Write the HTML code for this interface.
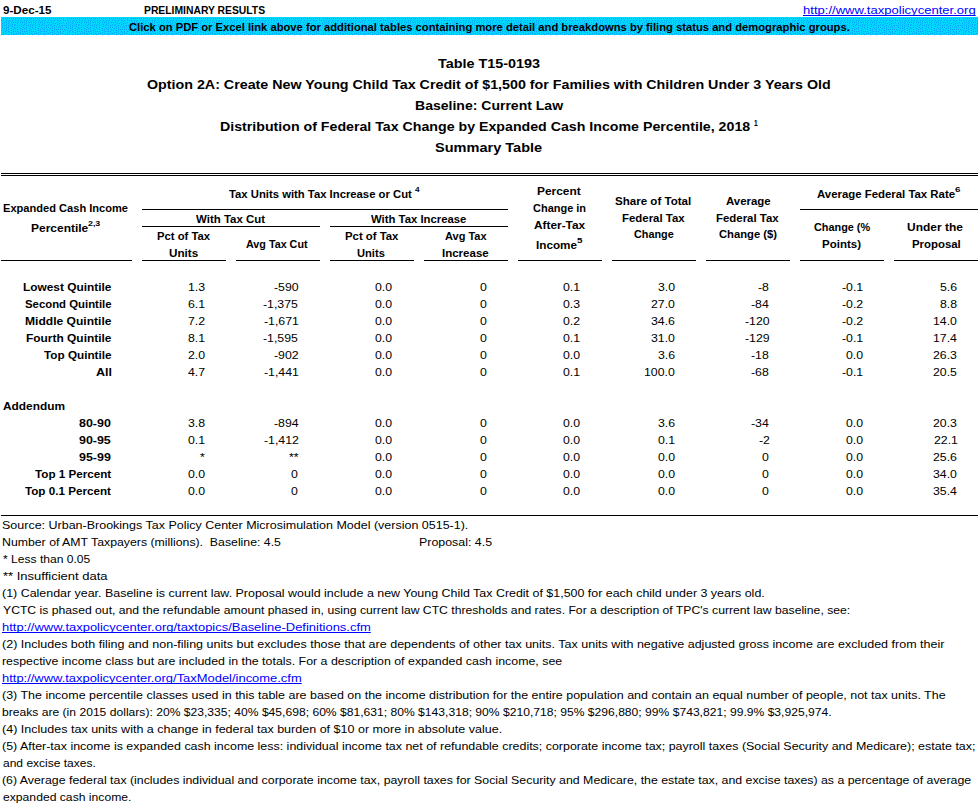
<!DOCTYPE html>
<html><head><meta charset="utf-8"><style>
html,body{margin:0;padding:0;background:#fff;}
body{width:978px;height:805px;position:relative;overflow:hidden;font-family:"Liberation Sans",sans-serif;color:#000;}
span{position:absolute;white-space:pre;transform-origin:0 0;}
.ln{position:absolute;background:#000;height:1px;}
</style></head><body>
<svg style="position:absolute;left:1px;top:17px" width="977" height="18" shape-rendering="crispEdges"><defs><pattern id="dp" width="64" height="18" patternUnits="userSpaceOnUse"><rect width="64" height="18" fill="#00d8ff"/><path fill="#0a9cff" d="M2 1h1v1h-1zM4 1h1v1h-1zM6 1h1v1h-1zM8 1h1v1h-1zM10 1h1v1h-1zM12 1h1v1h-1zM14 1h1v1h-1zM16 1h1v1h-1zM18 1h1v1h-1zM20 1h1v1h-1zM22 1h1v1h-1zM24 1h1v1h-1zM26 1h1v1h-1zM28 1h1v1h-1zM30 1h1v1h-1zM32 1h1v1h-1zM34 1h1v1h-1zM36 1h1v1h-1zM38 1h1v1h-1zM40 1h1v1h-1zM42 1h1v1h-1zM44 1h1v1h-1zM46 1h1v1h-1zM48 1h1v1h-1zM50 1h1v1h-1zM52 1h1v1h-1zM54 1h1v1h-1zM56 1h1v1h-1zM58 1h1v1h-1zM60 1h1v1h-1zM62 1h1v1h-1zM0 3h1v1h-1zM2 3h1v1h-1zM5 3h1v1h-1zM8 3h1v1h-1zM11 3h1v1h-1zM14 3h1v1h-1zM17 3h1v1h-1zM20 3h1v1h-1zM23 3h1v1h-1zM26 3h1v1h-1zM29 3h1v1h-1zM32 3h1v1h-1zM35 3h1v1h-1zM38 3h1v1h-1zM41 3h1v1h-1zM44 3h1v1h-1zM47 3h1v1h-1zM50 3h1v1h-1zM53 3h1v1h-1zM56 3h1v1h-1zM59 3h1v1h-1zM62 3h1v1h-1zM7 4h1v1h-1zM16 4h1v1h-1zM25 4h1v1h-1zM34 4h1v1h-1zM43 4h1v1h-1zM52 4h1v1h-1zM58 4h1v1h-1zM3 5h1v1h-1zM5 5h1v1h-1zM10 5h1v1h-1zM12 5h1v1h-1zM14 5h1v1h-1zM19 5h1v1h-1zM21 5h1v1h-1zM23 5h1v1h-1zM28 5h1v1h-1zM30 5h1v1h-1zM32 5h1v1h-1zM37 5h1v1h-1zM39 5h1v1h-1zM41 5h1v1h-1zM46 5h1v1h-1zM48 5h1v1h-1zM50 5h1v1h-1zM56 5h1v1h-1zM62 5h1v1h-1zM1 6h1v1h-1zM7 6h1v1h-1zM16 6h1v1h-1zM25 6h1v1h-1zM34 6h1v1h-1zM43 6h1v1h-1zM52 6h1v1h-1zM54 6h1v1h-1zM58 6h1v1h-1zM60 6h1v1h-1zM5 7h1v1h-1zM11 7h1v1h-1zM14 7h1v1h-1zM20 7h1v1h-1zM23 7h1v1h-1zM29 7h1v1h-1zM32 7h1v1h-1zM38 7h1v1h-1zM41 7h1v1h-1zM47 7h1v1h-1zM50 7h1v1h-1zM56 7h1v1h-1zM1 8h1v1h-1zM3 8h1v1h-1zM7 8h1v1h-1zM9 8h1v1h-1zM13 8h1v1h-1zM16 8h1v1h-1zM18 8h1v1h-1zM22 8h1v1h-1zM25 8h1v1h-1zM27 8h1v1h-1zM31 8h1v1h-1zM34 8h1v1h-1zM36 8h1v1h-1zM40 8h1v1h-1zM43 8h1v1h-1zM45 8h1v1h-1zM49 8h1v1h-1zM53 8h1v1h-1zM58 8h1v1h-1zM61 8h1v1h-1zM63 8h1v1h-1zM5 9h1v1h-1zM11 9h1v1h-1zM20 9h1v1h-1zM29 9h1v1h-1zM38 9h1v1h-1zM51 9h1v1h-1zM55 9h1v1h-1zM59 9h1v1h-1zM1 10h1v1h-1zM7 10h1v1h-1zM13 10h1v1h-1zM16 10h1v1h-1zM22 10h1v1h-1zM25 10h1v1h-1zM31 10h1v1h-1zM34 10h1v1h-1zM40 10h1v1h-1zM43 10h1v1h-1zM45 10h1v1h-1zM47 10h1v1h-1zM53 10h1v1h-1zM57 10h1v1h-1zM61 10h1v1h-1zM3 11h1v1h-1zM5 11h1v1h-1zM10 11h1v1h-1zM14 11h1v1h-1zM19 11h1v1h-1zM23 11h1v1h-1zM28 11h1v1h-1zM32 11h1v1h-1zM37 11h1v1h-1zM41 11h1v1h-1zM49 11h1v1h-1zM51 11h1v1h-1zM7 12h1v1h-1zM12 12h1v1h-1zM16 12h1v1h-1zM21 12h1v1h-1zM25 12h1v1h-1zM30 12h1v1h-1zM34 12h1v1h-1zM39 12h1v1h-1zM43 12h1v1h-1zM46 12h1v1h-1zM53 12h1v1h-1zM55 12h1v1h-1zM57 12h1v1h-1zM59 12h1v1h-1zM61 12h1v1h-1zM63 12h1v1h-1zM0 13h1v1h-1zM2 13h1v1h-1zM5 13h1v1h-1zM10 13h1v1h-1zM19 13h1v1h-1zM28 13h1v1h-1zM37 13h1v1h-1zM48 13h1v1h-1zM51 13h1v1h-1zM4 14h1v1h-1zM7 14h1v1h-1zM12 14h1v1h-1zM14 14h1v1h-1zM16 14h1v1h-1zM21 14h1v1h-1zM23 14h1v1h-1zM25 14h1v1h-1zM30 14h1v1h-1zM32 14h1v1h-1zM34 14h1v1h-1zM39 14h1v1h-1zM41 14h1v1h-1zM43 14h1v1h-1zM45 14h1v1h-1zM53 14h1v1h-1zM56 14h1v1h-1zM59 14h1v1h-1zM62 14h1v1h-1zM2 15h1v1h-1zM8 15h1v1h-1zM10 15h1v1h-1zM19 15h1v1h-1zM28 15h1v1h-1zM37 15h1v1h-1zM49 15h1v1h-1zM51 15h1v1h-1zM57 15h1v1h-1zM4 16h1v1h-1zM12 16h1v1h-1zM15 16h1v1h-1zM17 16h1v1h-1zM21 16h1v1h-1zM24 16h1v1h-1zM26 16h1v1h-1zM30 16h1v1h-1zM33 16h1v1h-1zM35 16h1v1h-1zM39 16h1v1h-1zM42 16h1v1h-1zM45 16h1v1h-1zM47 16h1v1h-1zM53 16h1v1h-1zM59 16h1v1h-1zM61 16h1v1h-1zM0 17h1v1h-1zM2 17h1v1h-1zM7 17h1v1h-1zM10 17h1v1h-1zM13 17h1v1h-1zM19 17h1v1h-1zM22 17h1v1h-1zM28 17h1v1h-1zM31 17h1v1h-1zM37 17h1v1h-1zM43 17h1v1h-1zM51 17h1v1h-1zM55 17h1v1h-1zM57 17h1v1h-1z"/></pattern></defs><rect width="977" height="18" fill="url(#dp)"/></svg>
<div class="ln" style="left:1px;top:173px;width:977px"></div>
<div class="ln" style="left:1px;top:175px;width:977px"></div>
<div class="ln" style="left:142px;top:209px;width:366px"></div>
<div class="ln" style="left:800px;top:209px;width:178px"></div>
<div class="ln" style="left:142px;top:226px;width:178px"></div>
<div class="ln" style="left:330px;top:226px;width:178px"></div>
<div class="ln" style="left:1px;top:260px;width:131px"></div>
<div class="ln" style="left:142px;top:260px;width:84px"></div>
<div class="ln" style="left:236px;top:260px;width:84px"></div>
<div class="ln" style="left:330px;top:260px;width:84px"></div>
<div class="ln" style="left:424px;top:260px;width:84px"></div>
<div class="ln" style="left:518px;top:260px;width:84px"></div>
<div class="ln" style="left:612px;top:260px;width:84px"></div>
<div class="ln" style="left:706px;top:260px;width:84px"></div>
<div class="ln" style="left:800px;top:260px;width:84px"></div>
<div class="ln" style="left:894px;top:260px;width:84px"></div>
<div class="ln" style="left:1px;top:515px;width:977px"></div>

<span style="left:3.10px;top:4.70px;font-size:11.2px;line-height:11.2px;font-weight:bold;transform:scaleX(1.0384);">9-Dec-15</span>
<span style="left:144.30px;top:4.70px;font-size:11.2px;line-height:11.2px;font-weight:bold;transform:scaleX(0.9244);">PRELIMINARY RESULTS</span>
<span style="left:803.40px;top:4.70px;font-size:11.2px;line-height:11.2px;color:#0000ff;text-decoration:underline;text-decoration-skip-ink:none;transform:scaleX(1.1668);">http://www.taxpolicycenter.org</span>
<span style="left:129.30px;top:21.50px;font-size:11.2px;line-height:11.2px;font-weight:bold;transform:scaleX(1.0022);">Click on PDF or Excel link above for additional tables containing more detail and breakdowns by filing status and demographic groups.</span>
<span style="left:437.70px;top:56.60px;font-size:13.0px;line-height:13.0px;font-weight:bold;transform:scaleX(1.1063);">Table T15-0193</span>
<span style="left:146.90px;top:77.80px;font-size:13.0px;line-height:13.0px;font-weight:bold;transform:scaleX(1.0972);">Option 2A: Create New Young Child Tax Credit of $1,500 for Families with Children Under 3 Years Old</span>
<span style="left:414.90px;top:99.00px;font-size:13.0px;line-height:13.0px;font-weight:bold;transform:scaleX(1.0789);">Baseline: Current Law</span>
<span style="left:219.60px;top:119.50px;font-size:13.0px;line-height:13.0px;font-weight:bold;transform:scaleX(1.0910);">Distribution of Federal Tax Change by Expanded Cash Income Percentile, 2018</span>
<span style="left:754.00px;top:118.70px;font-size:9.2px;line-height:9.2px;font-weight:bold;transform:scaleX(0.7200);">1</span>
<span style="left:434.80px;top:140.90px;font-size:13.0px;line-height:13.0px;font-weight:bold;transform:scaleX(1.1182);">Summary Table</span>
<span style="left:2.60px;top:202.80px;font-size:11.2px;line-height:11.2px;font-weight:bold;transform:scaleX(0.9907);">Expanded Cash Income</span>
<span style="left:30.60px;top:222.50px;font-size:11.2px;line-height:11.2px;font-weight:bold;transform:scaleX(1.0710);">Percentile</span>
<span style="left:88.10px;top:219.70px;font-size:8px;line-height:8px;font-weight:bold;transform:scaleX(1.1029);">2,3</span>
<span style="left:228.60px;top:188.90px;font-size:11.2px;line-height:11.2px;font-weight:bold;transform:scaleX(1.0094);">Tax Units with Tax Increase or Cut</span>
<span style="left:415.00px;top:185.70px;font-size:8px;line-height:8px;font-weight:bold;transform:scaleX(1.0208);">4</span>
<span style="left:195.90px;top:213.50px;font-size:11.2px;line-height:11.2px;font-weight:bold;transform:scaleX(1.0236);">With Tax Cut</span>
<span style="left:370.90px;top:213.50px;font-size:11.2px;line-height:11.2px;font-weight:bold;transform:scaleX(1.0120);">With Tax Increase</span>
<span style="left:156.80px;top:230.70px;font-size:11.2px;line-height:11.2px;font-weight:bold;transform:scaleX(1.0074);">Pct of Tax</span>
<span style="left:168.70px;top:247.70px;font-size:11.2px;line-height:11.2px;font-weight:bold;transform:scaleX(1.0465);">Units</span>
<span style="left:246.30px;top:238.90px;font-size:11.2px;line-height:11.2px;font-weight:bold;transform:scaleX(0.9612);">Avg Tax Cut</span>
<span style="left:345.40px;top:230.70px;font-size:11.2px;line-height:11.2px;font-weight:bold;transform:scaleX(1.0153);">Pct of Tax</span>
<span style="left:356.60px;top:247.70px;font-size:11.2px;line-height:11.2px;font-weight:bold;transform:scaleX(0.9955);">Units</span>
<span style="left:444.50px;top:230.70px;font-size:11.2px;line-height:11.2px;font-weight:bold;transform:scaleX(0.9841);">Avg Tax</span>
<span style="left:442.10px;top:247.70px;font-size:11.2px;line-height:11.2px;font-weight:bold;transform:scaleX(1.0284);">Increase</span>
<span style="left:536.60px;top:185.70px;font-size:11.2px;line-height:11.2px;font-weight:bold;transform:scaleX(1.0662);">Percent</span>
<span style="left:532.50px;top:202.70px;font-size:11.2px;line-height:11.2px;font-weight:bold;transform:scaleX(0.9809);">Change in</span>
<span style="left:534.10px;top:219.70px;font-size:11.2px;line-height:11.2px;font-weight:bold;transform:scaleX(1.0583);">After-Tax</span>
<span style="left:536.00px;top:239.90px;font-size:11.2px;line-height:11.2px;font-weight:bold;transform:scaleX(1.0455);">Income</span>
<span style="left:577.10px;top:236.80px;font-size:8px;line-height:8px;font-weight:bold;transform:scaleX(1.2250);">5</span>
<span style="left:614.90px;top:195.50px;font-size:11.2px;line-height:11.2px;font-weight:bold;transform:scaleX(1.0332);">Share of Total</span>
<span style="left:621.50px;top:212.90px;font-size:11.2px;line-height:11.2px;font-weight:bold;transform:scaleX(1.0206);">Federal Tax</span>
<span style="left:634.10px;top:229.30px;font-size:11.2px;line-height:11.2px;font-weight:bold;transform:scaleX(0.9681);">Change</span>
<span style="left:726.20px;top:195.50px;font-size:11.2px;line-height:11.2px;font-weight:bold;transform:scaleX(1.0213);">Average</span>
<span style="left:716.40px;top:212.90px;font-size:11.2px;line-height:11.2px;font-weight:bold;transform:scaleX(1.0206);">Federal Tax</span>
<span style="left:719.40px;top:229.30px;font-size:11.2px;line-height:11.2px;font-weight:bold;transform:scaleX(1.0039);">Change ($)</span>
<span style="left:816.60px;top:188.70px;font-size:11.2px;line-height:11.2px;font-weight:bold;transform:scaleX(1.0182);">Average Federal Tax Rate</span>
<span style="left:955.30px;top:185.80px;font-size:8px;line-height:8px;font-weight:bold;transform:scaleX(1.2250);">6</span>
<span style="left:813.50px;top:222.10px;font-size:11.2px;line-height:11.2px;font-weight:bold;transform:scaleX(0.9714);">Change (%</span>
<span style="left:822.30px;top:238.50px;font-size:11.2px;line-height:11.2px;font-weight:bold;transform:scaleX(1.0283);">Points)</span>
<span style="left:906.60px;top:221.70px;font-size:11.2px;line-height:11.2px;font-weight:bold;transform:scaleX(1.0696);">Under the</span>
<span style="left:912.20px;top:239.00px;font-size:11.2px;line-height:11.2px;font-weight:bold;transform:scaleX(1.0191);">Proposal</span>
<span style="left:22.50px;top:282.00px;font-size:11.2px;line-height:11.2px;font-weight:bold;transform:scaleX(1.0621);">Lowest Quintile</span>
<span style="left:187.74px;top:282.00px;font-size:11.2px;line-height:11.2px;transform:scaleX(1.1000);">1.3</span>
<span style="left:273.91px;top:282.00px;font-size:11.2px;line-height:11.2px;transform:scaleX(1.1000);">-590</span>
<span style="left:375.34px;top:282.00px;font-size:11.2px;line-height:11.2px;transform:scaleX(1.1000);">0.0</span>
<span style="left:479.80px;top:282.00px;font-size:11.2px;line-height:11.2px;transform:scaleX(1.1000);">0</span>
<span style="left:563.24px;top:282.00px;font-size:11.2px;line-height:11.2px;transform:scaleX(1.1000);">0.1</span>
<span style="left:657.64px;top:282.00px;font-size:11.2px;line-height:11.2px;transform:scaleX(1.1000);">3.0</span>
<span style="left:757.60px;top:282.00px;font-size:11.2px;line-height:11.2px;transform:scaleX(1.1000);">-8</span>
<span style="left:842.44px;top:282.00px;font-size:11.2px;line-height:11.2px;transform:scaleX(1.1000);">-0.1</span>
<span style="left:939.54px;top:282.00px;font-size:11.2px;line-height:11.2px;transform:scaleX(1.1000);">5.6</span>
<span style="left:25.40px;top:299.00px;font-size:11.2px;line-height:11.2px;font-weight:bold;transform:scaleX(1.0161);">Second Quintile</span>
<span style="left:187.74px;top:299.00px;font-size:11.2px;line-height:11.2px;transform:scaleX(1.1000);">6.1</span>
<span style="left:262.65px;top:299.00px;font-size:11.2px;line-height:11.2px;transform:scaleX(1.1000);">-1,375</span>
<span style="left:375.34px;top:299.00px;font-size:11.2px;line-height:11.2px;transform:scaleX(1.1000);">0.0</span>
<span style="left:479.80px;top:299.00px;font-size:11.2px;line-height:11.2px;transform:scaleX(1.1000);">0</span>
<span style="left:563.24px;top:299.00px;font-size:11.2px;line-height:11.2px;transform:scaleX(1.1000);">0.3</span>
<span style="left:650.79px;top:299.00px;font-size:11.2px;line-height:11.2px;transform:scaleX(1.1000);">27.0</span>
<span style="left:750.76px;top:299.00px;font-size:11.2px;line-height:11.2px;transform:scaleX(1.1000);">-84</span>
<span style="left:842.44px;top:299.00px;font-size:11.2px;line-height:11.2px;transform:scaleX(1.1000);">-0.2</span>
<span style="left:939.54px;top:299.00px;font-size:11.2px;line-height:11.2px;transform:scaleX(1.1000);">8.8</span>
<span style="left:24.50px;top:316.00px;font-size:11.2px;line-height:11.2px;font-weight:bold;transform:scaleX(1.0785);">Middle Quintile</span>
<span style="left:187.74px;top:316.00px;font-size:11.2px;line-height:11.2px;transform:scaleX(1.1000);">7.2</span>
<span style="left:263.65px;top:316.00px;font-size:11.2px;line-height:11.2px;transform:scaleX(1.1000);">-1,671</span>
<span style="left:375.34px;top:316.00px;font-size:11.2px;line-height:11.2px;transform:scaleX(1.1000);">0.0</span>
<span style="left:479.80px;top:316.00px;font-size:11.2px;line-height:11.2px;transform:scaleX(1.1000);">0</span>
<span style="left:563.24px;top:316.00px;font-size:11.2px;line-height:11.2px;transform:scaleX(1.1000);">0.2</span>
<span style="left:650.79px;top:316.00px;font-size:11.2px;line-height:11.2px;transform:scaleX(1.1000);">34.6</span>
<span style="left:744.91px;top:316.00px;font-size:11.2px;line-height:11.2px;transform:scaleX(1.1000);">-120</span>
<span style="left:842.44px;top:316.00px;font-size:11.2px;line-height:11.2px;transform:scaleX(1.1000);">-0.2</span>
<span style="left:932.69px;top:316.00px;font-size:11.2px;line-height:11.2px;transform:scaleX(1.1000);">14.0</span>
<span style="left:25.50px;top:333.00px;font-size:11.2px;line-height:11.2px;font-weight:bold;transform:scaleX(1.0661);">Fourth Quintile</span>
<span style="left:187.74px;top:333.00px;font-size:11.2px;line-height:11.2px;transform:scaleX(1.1000);">8.1</span>
<span style="left:262.65px;top:333.00px;font-size:11.2px;line-height:11.2px;transform:scaleX(1.1000);">-1,595</span>
<span style="left:375.34px;top:333.00px;font-size:11.2px;line-height:11.2px;transform:scaleX(1.1000);">0.0</span>
<span style="left:479.80px;top:333.00px;font-size:11.2px;line-height:11.2px;transform:scaleX(1.1000);">0</span>
<span style="left:563.24px;top:333.00px;font-size:11.2px;line-height:11.2px;transform:scaleX(1.1000);">0.1</span>
<span style="left:650.79px;top:333.00px;font-size:11.2px;line-height:11.2px;transform:scaleX(1.1000);">31.0</span>
<span style="left:744.91px;top:333.00px;font-size:11.2px;line-height:11.2px;transform:scaleX(1.1000);">-129</span>
<span style="left:842.44px;top:333.00px;font-size:11.2px;line-height:11.2px;transform:scaleX(1.1000);">-0.1</span>
<span style="left:932.69px;top:333.00px;font-size:11.2px;line-height:11.2px;transform:scaleX(1.1000);">17.4</span>
<span style="left:44.40px;top:350.00px;font-size:11.2px;line-height:11.2px;font-weight:bold;transform:scaleX(1.0484);">Top Quintile</span>
<span style="left:187.74px;top:350.00px;font-size:11.2px;line-height:11.2px;transform:scaleX(1.1000);">2.0</span>
<span style="left:273.91px;top:350.00px;font-size:11.2px;line-height:11.2px;transform:scaleX(1.1000);">-902</span>
<span style="left:375.34px;top:350.00px;font-size:11.2px;line-height:11.2px;transform:scaleX(1.1000);">0.0</span>
<span style="left:479.80px;top:350.00px;font-size:11.2px;line-height:11.2px;transform:scaleX(1.1000);">0</span>
<span style="left:563.24px;top:350.00px;font-size:11.2px;line-height:11.2px;transform:scaleX(1.1000);">0.0</span>
<span style="left:657.64px;top:350.00px;font-size:11.2px;line-height:11.2px;transform:scaleX(1.1000);">3.6</span>
<span style="left:750.76px;top:350.00px;font-size:11.2px;line-height:11.2px;transform:scaleX(1.1000);">-18</span>
<span style="left:845.54px;top:350.00px;font-size:11.2px;line-height:11.2px;transform:scaleX(1.1000);">0.0</span>
<span style="left:932.69px;top:350.00px;font-size:11.2px;line-height:11.2px;transform:scaleX(1.1000);">26.3</span>
<span style="left:95.90px;top:367.00px;font-size:11.2px;line-height:11.2px;font-weight:bold;transform:scaleX(1.1166);">All</span>
<span style="left:187.74px;top:367.00px;font-size:11.2px;line-height:11.2px;transform:scaleX(1.1000);">4.7</span>
<span style="left:263.65px;top:367.00px;font-size:11.2px;line-height:11.2px;transform:scaleX(1.1000);">-1,441</span>
<span style="left:375.34px;top:367.00px;font-size:11.2px;line-height:11.2px;transform:scaleX(1.1000);">0.0</span>
<span style="left:479.80px;top:367.00px;font-size:11.2px;line-height:11.2px;transform:scaleX(1.1000);">0</span>
<span style="left:563.24px;top:367.00px;font-size:11.2px;line-height:11.2px;transform:scaleX(1.1000);">0.1</span>
<span style="left:643.95px;top:367.00px;font-size:11.2px;line-height:11.2px;transform:scaleX(1.1000);">100.0</span>
<span style="left:750.76px;top:367.00px;font-size:11.2px;line-height:11.2px;transform:scaleX(1.1000);">-68</span>
<span style="left:842.44px;top:367.00px;font-size:11.2px;line-height:11.2px;transform:scaleX(1.1000);">-0.1</span>
<span style="left:932.69px;top:367.00px;font-size:11.2px;line-height:11.2px;transform:scaleX(1.1000);">20.5</span>
<span style="left:79.20px;top:418.00px;font-size:11.2px;line-height:11.2px;font-weight:bold;transform:scaleX(1.1117);">80-90</span>
<span style="left:187.74px;top:418.00px;font-size:11.2px;line-height:11.2px;transform:scaleX(1.1000);">3.8</span>
<span style="left:273.91px;top:418.00px;font-size:11.2px;line-height:11.2px;transform:scaleX(1.1000);">-894</span>
<span style="left:375.34px;top:418.00px;font-size:11.2px;line-height:11.2px;transform:scaleX(1.1000);">0.0</span>
<span style="left:479.80px;top:418.00px;font-size:11.2px;line-height:11.2px;transform:scaleX(1.1000);">0</span>
<span style="left:563.24px;top:418.00px;font-size:11.2px;line-height:11.2px;transform:scaleX(1.1000);">0.0</span>
<span style="left:657.64px;top:418.00px;font-size:11.2px;line-height:11.2px;transform:scaleX(1.1000);">3.6</span>
<span style="left:750.76px;top:418.00px;font-size:11.2px;line-height:11.2px;transform:scaleX(1.1000);">-34</span>
<span style="left:845.54px;top:418.00px;font-size:11.2px;line-height:11.2px;transform:scaleX(1.1000);">0.0</span>
<span style="left:932.69px;top:418.00px;font-size:11.2px;line-height:11.2px;transform:scaleX(1.1000);">20.3</span>
<span style="left:79.20px;top:435.00px;font-size:11.2px;line-height:11.2px;font-weight:bold;transform:scaleX(1.1095);">90-95</span>
<span style="left:187.74px;top:435.00px;font-size:11.2px;line-height:11.2px;transform:scaleX(1.1000);">0.1</span>
<span style="left:263.65px;top:435.00px;font-size:11.2px;line-height:11.2px;transform:scaleX(1.1000);">-1,412</span>
<span style="left:375.34px;top:435.00px;font-size:11.2px;line-height:11.2px;transform:scaleX(1.1000);">0.0</span>
<span style="left:479.80px;top:435.00px;font-size:11.2px;line-height:11.2px;transform:scaleX(1.1000);">0</span>
<span style="left:563.24px;top:435.00px;font-size:11.2px;line-height:11.2px;transform:scaleX(1.1000);">0.0</span>
<span style="left:657.64px;top:435.00px;font-size:11.2px;line-height:11.2px;transform:scaleX(1.1000);">0.1</span>
<span style="left:758.60px;top:435.00px;font-size:11.2px;line-height:11.2px;transform:scaleX(1.1000);">-2</span>
<span style="left:845.54px;top:435.00px;font-size:11.2px;line-height:11.2px;transform:scaleX(1.1000);">0.0</span>
<span style="left:933.69px;top:435.00px;font-size:11.2px;line-height:11.2px;transform:scaleX(1.1000);">22.1</span>
<span style="left:79.20px;top:452.00px;font-size:11.2px;line-height:11.2px;font-weight:bold;transform:scaleX(1.1117);">95-99</span>
<span style="left:200.10px;top:452.00px;font-size:11.2px;line-height:11.2px;transform:scaleX(1.1000);">*</span>
<span style="left:289.01px;top:452.00px;font-size:11.2px;line-height:11.2px;transform:scaleX(1.1000);">**</span>
<span style="left:375.34px;top:452.00px;font-size:11.2px;line-height:11.2px;transform:scaleX(1.1000);">0.0</span>
<span style="left:479.80px;top:452.00px;font-size:11.2px;line-height:11.2px;transform:scaleX(1.1000);">0</span>
<span style="left:563.24px;top:452.00px;font-size:11.2px;line-height:11.2px;transform:scaleX(1.1000);">0.0</span>
<span style="left:657.64px;top:452.00px;font-size:11.2px;line-height:11.2px;transform:scaleX(1.1000);">0.0</span>
<span style="left:761.70px;top:452.00px;font-size:11.2px;line-height:11.2px;transform:scaleX(1.1000);">0</span>
<span style="left:845.54px;top:452.00px;font-size:11.2px;line-height:11.2px;transform:scaleX(1.1000);">0.0</span>
<span style="left:932.69px;top:452.00px;font-size:11.2px;line-height:11.2px;transform:scaleX(1.1000);">25.6</span>
<span style="left:35.20px;top:469.00px;font-size:11.2px;line-height:11.2px;font-weight:bold;transform:scaleX(1.0420);">Top 1 Percent</span>
<span style="left:187.74px;top:469.00px;font-size:11.2px;line-height:11.2px;transform:scaleX(1.1000);">0.0</span>
<span style="left:290.70px;top:469.00px;font-size:11.2px;line-height:11.2px;transform:scaleX(1.1000);">0</span>
<span style="left:375.34px;top:469.00px;font-size:11.2px;line-height:11.2px;transform:scaleX(1.1000);">0.0</span>
<span style="left:479.80px;top:469.00px;font-size:11.2px;line-height:11.2px;transform:scaleX(1.1000);">0</span>
<span style="left:563.24px;top:469.00px;font-size:11.2px;line-height:11.2px;transform:scaleX(1.1000);">0.0</span>
<span style="left:657.64px;top:469.00px;font-size:11.2px;line-height:11.2px;transform:scaleX(1.1000);">0.0</span>
<span style="left:761.70px;top:469.00px;font-size:11.2px;line-height:11.2px;transform:scaleX(1.1000);">0</span>
<span style="left:845.54px;top:469.00px;font-size:11.2px;line-height:11.2px;transform:scaleX(1.1000);">0.0</span>
<span style="left:932.69px;top:469.00px;font-size:11.2px;line-height:11.2px;transform:scaleX(1.1000);">34.0</span>
<span style="left:24.50px;top:486.00px;font-size:11.2px;line-height:11.2px;font-weight:bold;transform:scaleX(1.0417);">Top 0.1 Percent</span>
<span style="left:187.74px;top:486.00px;font-size:11.2px;line-height:11.2px;transform:scaleX(1.1000);">0.0</span>
<span style="left:290.70px;top:486.00px;font-size:11.2px;line-height:11.2px;transform:scaleX(1.1000);">0</span>
<span style="left:375.34px;top:486.00px;font-size:11.2px;line-height:11.2px;transform:scaleX(1.1000);">0.0</span>
<span style="left:479.80px;top:486.00px;font-size:11.2px;line-height:11.2px;transform:scaleX(1.1000);">0</span>
<span style="left:563.24px;top:486.00px;font-size:11.2px;line-height:11.2px;transform:scaleX(1.1000);">0.0</span>
<span style="left:657.64px;top:486.00px;font-size:11.2px;line-height:11.2px;transform:scaleX(1.1000);">0.0</span>
<span style="left:761.70px;top:486.00px;font-size:11.2px;line-height:11.2px;transform:scaleX(1.1000);">0</span>
<span style="left:845.54px;top:486.00px;font-size:11.2px;line-height:11.2px;transform:scaleX(1.1000);">0.0</span>
<span style="left:932.69px;top:486.00px;font-size:11.2px;line-height:11.2px;transform:scaleX(1.1000);">35.4</span>
<span style="left:3.40px;top:401.00px;font-size:11.2px;line-height:11.2px;font-weight:bold;transform:scaleX(1.0609);">Addendum</span>
<span style="left:1.50px;top:520.00px;font-size:11.2px;line-height:11.2px;transform:scaleX(1.1166);">Source: Urban-Brookings Tax Policy Center Microsimulation Model (version 0515-1).</span>
<span style="left:1.50px;top:537.00px;font-size:11.2px;line-height:11.2px;transform:scaleX(1.0986);">Number of AMT Taxpayers (millions).  Baseline: 4.5</span>
<span style="left:2.50px;top:554.00px;font-size:11.2px;line-height:11.2px;transform:scaleX(1.0789);">* Less than 0.05</span>
<span style="left:2.50px;top:571.00px;font-size:11.2px;line-height:11.2px;transform:scaleX(1.1625);">** Insufficient data</span>
<span style="left:1.50px;top:588.00px;font-size:11.2px;line-height:11.2px;transform:scaleX(1.1113);">(1) Calendar year. Baseline is current law. Proposal would include a new Young Child Tax Credit of $1,500 for each child under 3 years old.</span>
<span style="left:2.50px;top:605.00px;font-size:11.2px;line-height:11.2px;transform:scaleX(1.0889);">YCTC is phased out, and the refundable amount phased in, using current law CTC thresholds and rates. For a description of TPC's current law baseline, see:</span>
<span style="left:1.50px;top:622.00px;font-size:11.2px;line-height:11.2px;color:#0000ff;text-decoration:underline;text-decoration-skip-ink:none;transform:scaleX(1.1584);">http://www.taxpolicycenter.org/taxtopics/Baseline-Definitions.cfm</span>
<span style="left:1.50px;top:639.00px;font-size:11.2px;line-height:11.2px;transform:scaleX(1.1186);">(2) Includes both filing and non-filing units but excludes those that are dependents of other tax units. Tax units with negative adjusted gross income are excluded from their</span>
<span style="left:1.50px;top:656.00px;font-size:11.2px;line-height:11.2px;transform:scaleX(1.1066);">respective income class but are included in the totals. For a description of expanded cash income, see</span>
<span style="left:1.50px;top:673.00px;font-size:11.2px;line-height:11.2px;color:#0000ff;text-decoration:underline;text-decoration-skip-ink:none;transform:scaleX(1.1558);">http://www.taxpolicycenter.org/TaxModel/income.cfm</span>
<span style="left:1.50px;top:690.00px;font-size:11.2px;line-height:11.2px;transform:scaleX(1.1137);">(3) The income percentile classes used in this table are based on the income distribution for the entire population and contain an equal number of people, not tax units. The</span>
<span style="left:1.50px;top:707.00px;font-size:11.2px;line-height:11.2px;transform:scaleX(1.0826);">breaks are (in 2015 dollars): 20% $23,335; 40% $45,698; 60% $81,631; 80% $143,318; 90% $210,718; 95% $296,880; 99% $743,821; 99.9% $3,925,974.</span>
<span style="left:1.50px;top:724.00px;font-size:11.2px;line-height:11.2px;transform:scaleX(1.1201);">(4) Includes tax units with a change in federal tax burden of $10 or more in absolute value.</span>
<span style="left:1.50px;top:741.00px;font-size:11.2px;line-height:11.2px;transform:scaleX(1.1110);">(5) After-tax income is expanded cash income less: individual income tax net of refundable credits; corporate income tax; payroll taxes (Social Security and Medicare); estate tax;</span>
<span style="left:2.50px;top:758.00px;font-size:11.2px;line-height:11.2px;transform:scaleX(1.0738);">and excise taxes.</span>
<span style="left:1.50px;top:775.00px;font-size:11.2px;line-height:11.2px;transform:scaleX(1.1024);">(6) Average federal tax (includes individual and corporate income tax, payroll taxes for Social Security and Medicare, the estate tax, and excise taxes) as a percentage of average</span>
<span style="left:2.50px;top:792.00px;font-size:11.2px;line-height:11.2px;transform:scaleX(1.0868);">expanded cash income.</span>
<span style="left:419.20px;top:537.00px;font-size:11.2px;line-height:11.2px;transform:scaleX(1.1082);">Proposal: 4.5</span>
</body></html>
